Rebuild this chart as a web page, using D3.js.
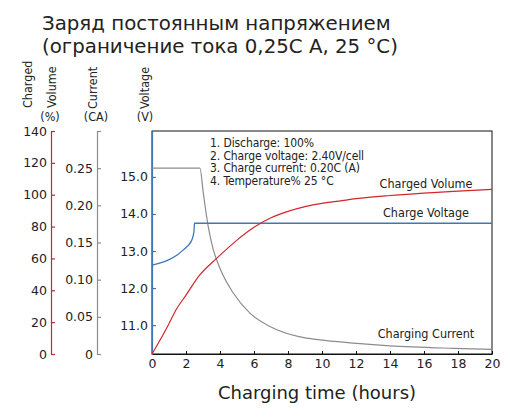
<!doctype html>
<html lang="ru">
<head>
<meta charset="utf-8">
<title>Заряд постоянным напряжением</title>
<script src="https://cdn.jsdelivr.net/npm/d3@7/dist/d3.min.js"></script>
<style>
	body { margin: 0; background: #fff; }
	svg { display: block; font-family: "DejaVu Sans", sans-serif; }
	.tick text { font-size: 12.5px; fill: #222; font-family: "DejaVu Sans", sans-serif; }
	.narrow { font-family: "DejaVu Sans Condensed", "Open Sans", sans-serif; }
</style>
</head>
<body>
<svg id="Chart" width="510" height="419"></svg>
<script>
(function () {
	"use strict"

	// charging time (hours) for each series
	var volumeHours = [0, 1, 1.4, 2, 2.8, 3.8, 5, 6, 7, 8, 9, 10, 11, 12, 14, 16, 18, 20],
		volumePct = [0, 19, 27.5, 37, 49.5, 60, 71.5, 79.5, 85.5, 89.5, 92.5, 94.6, 96, 97.5, 99.5, 101, 102.3, 103.4];

	var voltageHours = [0, 0.5, 1, 1.5, 1.84, 2.1, 2.3, 2.43, 2.48, 2.5, 20],
		voltageV = [12.62, 12.68, 12.77, 12.9, 13.03, 13.14, 13.26, 13.43, 13.6, 13.75, 13.75];

	var currentHours = [0, 2.82, 3.02, 3.31, 3.61, 4.04, 4.78, 5.76, 6.94, 8.7, 9.88, 11.65, 14, 17.7, 20],
		currentCA = [0.25, 0.25, 0.216, 0.171, 0.14, 0.113, 0.082, 0.055, 0.037, 0.023, 0.019, 0.015, 0.011, 0.0077, 0.0063];

	var hourTicks = [0, 2, 4, 6, 8, 10, 12, 14, 16, 18, 20],
		volumeTicks = [0, 20, 40, 60, 80, 100, 120, 140],
		currentTicks = [0, 0.05, 0.1, 0.15, 0.2, 0.25, 0.3],
		voltageTicks = [11, 12, 13, 14, 15];

	var notes = ["1. Discharge: 100%", "2. Charge voltage: 2.40V/cell", "3. Charge current: 0.20C (A)", "4. Temperature% 25 °C"];

	var RED = "#d2262b", BLUE = "#3d78b5", GREY = "#8c8c8c";

	var svg = d3.select("#Chart");

	var x = d3.scaleLinear([0, 20], [152, 492]),
		yVolume = d3.scaleLinear([0, 140], [354, 131]),
		yCurrent = d3.scaleLinear([0, 0.3], [354, 131]),
		yVoltage = d3.scaleLinear([10.22, 16.24], [354, 131]);

	// title
	svg.append("text")
		.attr("x", 42).attr("y", 30)
		.attr("font-size", 19.8).attr("fill", "#222")
		.text("Заряд постоянным напряжением");
	svg.append("text")
		.attr("x", 42).attr("y", 53)
		.attr("font-size", 19.8).attr("fill", "#222")
		.text("(ограничение тока 0,25C A, 25 °C)");

	// plot frame
	svg.append("rect")
		.attr("x", x(0)).attr("y", 131)
		.attr("width", x(20) - x(0)).attr("height", 354 - 131)
		.attr("fill", "none").attr("stroke", "#111").attr("stroke-width", 1);

	// bottom axis
	var gx = svg.append("g")
		.attr("transform", "translate(0,354)")
		.call(d3.axisBottom(x).tickValues(hourTicks).tickSize(-3).tickSizeOuter(0).tickPadding(5));
	gx.select(".domain").attr("stroke", "#111");
	gx.selectAll(".tick line").attr("stroke", "#111");

	svg.append("text")
		.attr("x", 317).attr("y", 399)
		.attr("text-anchor", "middle")
		.attr("font-size", 18).attr("fill", "#222")
		.text("Charging time (hours)");

	function leftAxis(scale, ticks, xPos, color, fmt) {
		var g = svg.append("g")
			.attr("transform", "translate(" + xPos + ",0)")
			.call(d3.axisLeft(scale).tickValues(ticks).tickSize(-4).tickSizeOuter(0).tickPadding(4).tickFormat(fmt));
		g.select(".domain").attr("stroke", color).attr("stroke-width", 1.2);
		g.selectAll(".tick line").attr("stroke", color).attr("stroke-width", 1.2);
		return g;
	}

	leftAxis(yVolume, volumeTicks, 51, "#c4262c", d3.format("d"));
	leftAxis(yCurrent, currentTicks, 97, GREY, function (d) {
		if (d === 0) return "0";
		if (d > 0.26) return "";
		return d3.format(".2f")(d);
	});
	leftAxis(yVoltage, voltageTicks, 152, BLUE, d3.format(".1f"));

	// axis headers
	function vTitle(label, cx, bottom) {
		svg.append("text")
			.attr("class", "narrow")
			.attr("transform", "translate(" + cx + "," + bottom + ") rotate(-90)")
			.attr("font-size", 12.5).attr("fill", "#222")
			.text(label);
	}
	vTitle("Charged", 32, 108);
	vTitle("Volume", 56, 108);
	vTitle("Current", 97, 109);
	vTitle("Voltage", 149, 109);

	[["(%)", 50], ["(CA)", 96], ["(V)", 145]].forEach(function (d) {
		svg.append("text")
			.attr("class", "narrow")
			.attr("x", d[1]).attr("y", 121)
			.attr("text-anchor", "middle")
			.attr("font-size", 12.5).attr("fill", "#222")
			.text(d[0]);
	});

	// series
	function drawLine(hours, values, scale, color, width) {
		svg.append("path")
			.datum(d3.zip(hours, values))
			.attr("fill", "none")
			.attr("stroke", color)
			.attr("stroke-width", width)
			.attr("stroke-linejoin", "round")
			.attr("d", d3.line()
				.x(function (d) { return x(d[0]); })
				.y(function (d) { return scale(d[1]); })
				.curve(d3.curveMonotoneX));
	}

	drawLine(currentHours, currentCA, yCurrent, GREY, 1.2);
	drawLine(voltageHours, voltageV, yVoltage, BLUE, 1.3);
	drawLine(volumeHours, volumePct, yVolume, RED, 1.2);

	// notes
	svg.append("g").selectAll("text")
		.data(notes)
		.join("text")
			.attr("class", "narrow")
			.attr("x", 210)
			.attr("y", function (d, i) { return 147 + i * 12.6; })
			.attr("font-size", 12).attr("fill", "#222")
			.attr("letter-spacing", -0.1)
			.text(function (d) { return d; });

	// series labels
	[["Charged Volume", 426, 188], ["Charge Voltage", 426, 217], ["Charging Current", 426, 338]].forEach(function (d) {
		svg.append("text")
			.attr("class", "narrow")
			.attr("x", d[1]).attr("y", d[2])
			.attr("text-anchor", "middle")
			.attr("font-size", 12.5).attr("fill", "#222")
			.text(d[0]);
	});
})();
</script>
</body>
</html>
